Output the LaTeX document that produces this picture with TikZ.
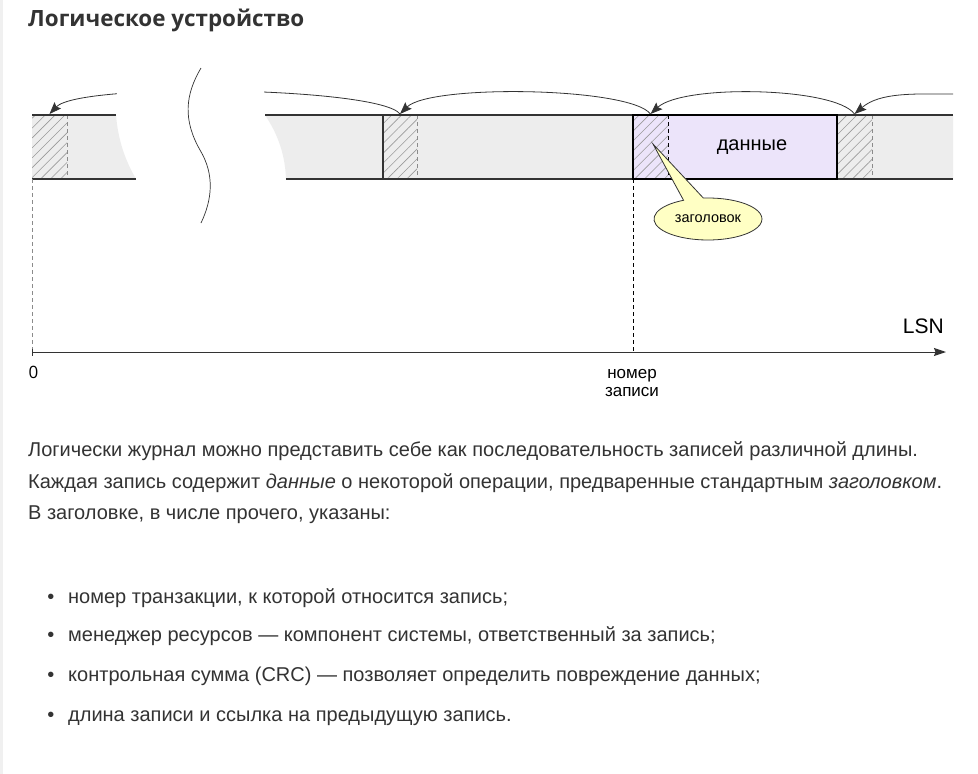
\documentclass[tikz,border=0pt]{standalone}
\usepackage{fontspec}
\setmainfont{Liberation Sans}
\newfontfamily\titlefont{Open Sans}[BoldFont={* Bold}]
\usetikzlibrary{arrows.meta,patterns.meta,shapes.callouts}
\definecolor{stripfill}{HTML}{EDEDED}
\definecolor{lav}{HTML}{ECE4FA}
\definecolor{callfill}{HTML}{FFFFC4}
\definecolor{txt}{HTML}{333333}
\definecolor{edge}{HTML}{333333}
\definecolor{hatchc}{HTML}{9A9A9A}
\tikzset{
  stripline/.style={draw=edge, line width=1.1pt},
  hatchbox/.style={pattern={Lines[angle=45,distance=7pt,line width=0.6pt]}, pattern color=hatchc},
  graydash/.style={draw=hatchc!90!black, line width=0.8pt, dash pattern=on 4pt off 3pt},
  blackdash/.style={draw=black, line width=0.8pt, dash pattern=on 4pt off 3pt},
  ptr/.style={draw=edge, line width=0.8pt, -{Stealth[length=12pt,width=9pt,inset=2pt]}},
  lbl/.style={inner sep=0pt, text=black},
  body/.style={inner sep=0pt, anchor=base west, text=txt, font=\fontsize{20}{24}\selectfont},
}
\begin{document}
\begin{tikzpicture}[x=1pt,y=-1pt]
\useasboundingbox (0,0) rectangle (978,774);
\fill[white] (0,0) rectangle (978,774);
\fill[black!6] (0,0) rectangle (3,774);

% title
\node[inner sep=0pt, anchor=base west, text=txt, font=\titlefont\bfseries\fontsize{22.4}{28}\selectfont] (title) at (28,26) {Логическое устройство};

% strip pieces
\fill[stripfill] (32,115) -- (116,115) .. controls (118,140) and (125,160) .. (136,179) -- (32,179) -- cycle;
\fill[stripfill] (265,115) .. controls (275,130) and (285,150) .. (286,179) -- (953,179) -- (953,115) -- cycle;

% record C body
\fill[lav] (633,115) rectangle (837,179);

% hatched headers
\path[hatchbox] (32,115) rectangle (67,179);
\path[hatchbox] (383,115) rectangle (417,179);
\path[hatchbox] (633,115) rectangle (668,179);
\path[hatchbox] (837,115) rectangle (872,179);

% dividers
\draw[graydash] (67,115) -- (67,179);
\draw[graydash] (417,115) -- (417,179);
\draw[blackdash] (668,115) -- (668,179);
\draw[graydash] (872,115) -- (872,179);
\draw[draw=edge, line width=1.1pt] (383,115) -- (383,179);

% strip edges
\draw[stripline] (32,115) -- (116,115);
\draw[stripline] (32,179) -- (136,179);
\draw[stripline] (265,115) -- (953,115);
\draw[stripline] (286,179) -- (953,179);

% record C frame
\draw[black, line width=1.8pt] (633,115) rectangle (837,179);
\node[lbl, font=\fontsize{20}{24}\selectfont] (data) at (752,147) {данные};

% header points
\coordinate (hA) at (49.5,114);
\coordinate (hB) at (400,114);
\coordinate (hC) at (650.5,114);
\coordinate (hD) at (854.5,114);
\coordinate (hE) at (953,94);

% back pointers
\draw[ptr] (hB) .. controls (380,87) and (80,82) .. (hA);
\draw[ptr] (hC) .. controls (630,87) and (430,84) .. (hB);
\draw[ptr] (hD) .. controls (835,87) and (683,84) .. (hC);
\draw[ptr] (hE) .. controls (915,94) and (880,92) .. (hD);

% gap cover and break mark
\fill[white] (117,60) rectangle (264,113.5);
\draw[edge, line width=0.7pt] (201,68) .. controls (185,95) and (183,120) .. (200,150) .. controls (215,175) and (212,200) .. (201,223);

% callout
\node[ellipse callout, draw=edge, line width=0.8pt, fill=callfill, minimum width=108pt, minimum height=42pt, inner sep=0pt,
  callout absolute pointer={(653,144)}, callout pointer arc=22, font=\fontsize{14.5}{17}\selectfont] (hdr) at (708,219) {заголовок};

% axis
\coordinate (o) at (32,352);
\coordinate (axend) at (946,352);
\coordinate (rec) at (633,352);
\draw[graydash] (32,179) -- (o);
\draw[blackdash] (633,179) -- (rec);
\draw[edge, line width=1pt, -{Stealth[length=12pt,width=8pt,inset=1.5pt]}] (o) -- (axend);
\draw[edge, line width=0.8pt] (32,348.5) -- (32,355.5);
\node[lbl, font=\fontsize{21}{24}\selectfont, anchor=base east] (lsn) at (944,333) {LSN};
\node[inner sep=0pt, anchor=base, text=black, font=\titlefont\fontsize{17}{20}\selectfont] (zero) at (33.5,378) {0};
\node[inner sep=0pt, anchor=base, text=black, font=\fontsize{17}{20}\selectfont] (nrec) at (632,378) {номер};
\node[inner sep=0pt, anchor=base, text=black, font=\fontsize{17}{20}\selectfont] (nrec2) at (632,396) {записи};

% body text
\node[body] (p1) at (28,456) {Логически журнал можно представить себе как последовательность записей различной длины.};
\node[body] (p2) at (28,488) {Каждая запись содержит \textit{данные} о некоторой операции, предваренные стандартным \textit{заголовком}.};
\node[body] (p3) at (28,519) {В заголовке, в числе прочего, указаны:};

\foreach \yy/\ltext [count=\i] in {603/{номер транзакции, к которой относится запись;},641/{менеджер ресурсов — компонент системы, ответственный за запись;},681/{контрольная сумма (CRC) — позволяет определить повреждение данных;},721/{длина записи и ссылка на предыдущую запись.}}{
  \node[inner sep=0pt, anchor=base, text=txt, font=\fontsize{20}{24}\selectfont] (b\i) at (51,\yy) {•};
  \node[body] (l\i) at (68,\yy) {\ltext};
}
\end{tikzpicture}
\end{document}
